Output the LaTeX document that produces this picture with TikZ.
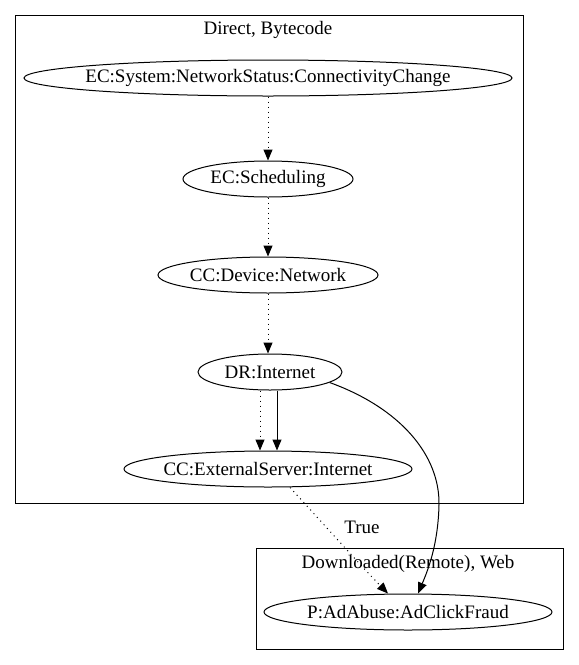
\documentclass[tikz,border=0pt]{standalone}
\usepackage{fontspec}
\setmainfont{Liberation Serif}
\usetikzlibrary{shapes.geometric,arrows.meta}
\newcommand\zw[1]{\makebox[0pt]{#1}}
\begin{document}
\begin{tikzpicture}[x=1pt,y=-1pt,
  every node/.style={font=\fontsize{19}{22}\selectfont},
  ell/.style={draw,ellipse,inner sep=0pt,minimum height=36pt,line width=1pt},
  clus/.style={draw,line width=1pt},
  arr/.style={line width=1pt,-{Triangle[length=11pt,width=9pt]}},
  dot/.style={arr,dash pattern=on 1pt off 4pt}]
\useasboundingbox (0,0) rectangle (579,665);
\node[clus,minimum width=508pt,minimum height=488pt,anchor=north west,inner sep=0pt] (c1) at (15,15) {};
\node (t1) at (268,30) {Direct, Bytecode};
\node[clus,minimum width=307pt,minimum height=101pt,anchor=north west,inner sep=0pt] (c2) at (256,548) {};
\node (t2) at (408,564) {Downloaded(Remote), Web};
\node[ell,minimum width=488pt] (n1) at (268,78) {\zw{EC:System:NetworkStatus:ConnectivityChange}};
\node[ell,minimum width=170pt] (n2) at (268,179) {\zw{EC:Scheduling}};
\node[ell,minimum width=220pt] (n3) at (268,275) {\zw{CC:Device:Network}};
\node[ell,minimum width=144pt] (n4) at (270,372) {\zw{DR:Internet}};
\node[ell,minimum width=288pt] (n5) at (268,469) {\zw{CC:ExternalServer:Internet}};
\node[ell,minimum width=288pt] (n6) at (408,612) {\zw{P:AdAbuse:AdClickFraud}};
\draw[dot] (n1) -- (n2);
\draw[dot] (n2) -- (n3);
\draw[dot] (n3.south) -- ([xshift=-2pt]n4.north);
\draw[dot] ([xshift=-10pt]n4.south) -- ([xshift=-8pt]n5.north);
\draw[arr] ([xshift=7pt]n4.south) -- ([xshift=9pt]n5.north);
\draw[arr] (n4.-10) .. controls (400,408) and (440,455) .. (439,505) .. controls (438,545) and (428,570) .. ([xshift=10pt]n6.north);
\draw[dot] ([xshift=22pt]n5.south) .. controls (320,520) and (360,565) .. ([xshift=-20pt]n6.north);
\node (lt) at (362,527) {True};
\end{tikzpicture}
\end{document}
